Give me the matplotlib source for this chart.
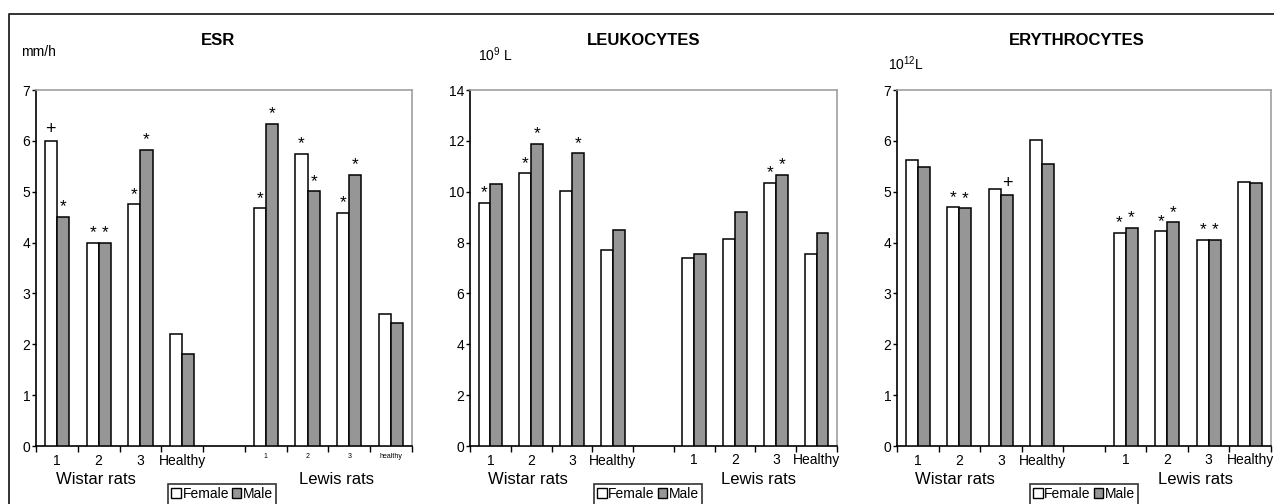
import numpy as np
import matplotlib
matplotlib.use('Agg')
import matplotlib.pyplot as plt
from matplotlib.patches import Patch
from matplotlib.lines import Line2D

plt.rcParams['font.family'] = ['Liberation Sans', 'DejaVu Sans']
plt.rcParams['mathtext.default'] = 'regular'

# kategorier: 4 Wistar, tom plass, 4 Lewis
wistar_labels = ['1', '2', '3', 'Healthy']
lewis_labels = ['1', '2', '3', 'Healthy']
lewis_labels_esr = ['1', '2', '3', 'healthy']

# ESR (mm/h)
esr_female = [6.0, 4.0, 4.75, 2.2, 4.67, 5.75, 4.59, 2.6]
esr_male = [4.5, 4.0, 5.83, 1.8, 6.34, 5.01, 5.33, 2.42]
esr_mark_f = ['+', '*', '*', '', '*', '*', '*', '']
esr_mark_m = ['*', '*', '*', '', '*', '*', '*', '']

# Leukocytter (10^9 L)
leu_female = [9.55, 10.72, 10.03, 7.7, 7.38, 8.16, 10.34, 7.57]
leu_male = [10.3, 11.88, 11.51, 8.49, 7.57, 9.19, 10.67, 8.39]
leu_mark_f = ['*', '*', '', '', '', '', '*', '']
leu_mark_m = ['', '*', '*', '', '', '', '*', '']

# Erytrocytter (10^12 L)
ery_female = [5.62, 4.69, 5.06, 6.02, 4.19, 4.22, 4.06, 5.2]
ery_male = [5.49, 4.67, 4.93, 5.54, 4.29, 4.4, 4.06, 5.17]
ery_mark_f = ['', '*', '', '', '*', '*', '*', '']
ery_mark_m = ['', '*', '+', '', '*', '*', '*', '']

W, H = 1274, 504
fig = plt.figure(figsize=(W / 100, H / 100), dpi=100)

pos = np.r_[0:4, 5:9]  # hopper over plass nr 4
bw = 0.29
grey = '#969696'


def panel(px_left, px_right, female, male, mark_f, mark_m, ymax, ystep,
          title, unit, lew_labels, lew_size, title_x, unit_x, unit_y,
          wist_x, lew_x, leg_x):
    ax = fig.add_axes([px_left / W, (H - 446) / H, (px_right - px_left) / W, 356 / H])
    ax.bar(pos - bw / 2, female, bw, color='white', edgecolor='black', linewidth=1.1, zorder=3)
    ax.bar(pos + bw / 2, male, bw, color=grey, edgecolor='black', linewidth=1.1, zorder=3)
    for xs, vals, marks in [(pos - bw / 2, female, mark_f), (pos + bw / 2, male, mark_m)]:
        for x, v, m in zip(xs, vals, marks):
            if m == '*':
                ax.annotate(m, (x, v), xytext=(0, 4), textcoords='offset points',
                            ha='center', va='baseline', fontsize=12.5)
            elif m == '+':
                ax.annotate(m, (x, v), xytext=(0, 5), textcoords='offset points',
                            ha='center', va='baseline', fontsize=13)

    ax.set_xlim(-0.5, 8.5)
    ax.set_ylim(0, ymax)
    ax.set_yticks(np.arange(0, ymax + 0.01, ystep))
    ax.tick_params(axis='y', labelsize=10, length=3, width=1, pad=1)

    ax.set_xticks(pos)
    ax.set_xticklabels(wistar_labels + [''] * 4)
    ax.set_xticks(np.arange(-0.5, 9, 1), minor=True)
    ax.tick_params(axis='x', which='major', length=0, labelsize=10, pad=6)
    ax.tick_params(axis='x', which='minor', length=4, width=1, direction='out')
    for x, lab in zip(pos[4:], lew_labels):
        ax.text(x, -0.02, lab, transform=ax.get_xaxis_transform(), ha='center', va='top',
                fontsize=lew_size)

    ax.spines['left'].set_color('black')
    ax.spines['bottom'].set_color('black')
    ax.spines['left'].set_linewidth(1.2)
    ax.spines['bottom'].set_linewidth(1.2)
    for s in ['top', 'right']:
        ax.spines[s].set_color('#a0a0a0')
        ax.spines[s].set_linewidth(1.2)

    ax.text(title_x, 1.14, title, transform=ax.transAxes, ha='center', va='center',
            fontsize=12, fontweight='bold')
    ax.text(unit_x, unit_y, unit, transform=ax.transAxes, ha='left', va='center', fontsize=10)
    ax.text(wist_x, -0.095, 'Wistar rats', transform=ax.transAxes, ha='center', va='center',
            fontsize=12)
    ax.text(lew_x, -0.095, 'Lewis rats', transform=ax.transAxes, ha='center', va='center',
            fontsize=12)

    handles = [Patch(facecolor='white', edgecolor='black', linewidth=1),
               Patch(facecolor=grey, edgecolor='black', linewidth=1)]
    leg = ax.legend(handles, ['Female', 'Male'], ncol=2, loc='center',
                    bbox_to_anchor=(leg_x, -0.135), frameon=True, fancybox=False,
                    fontsize=10, handlelength=0.7, handleheight=0.7, handletextpad=0.1,
                    columnspacing=0.2, borderpad=0.25, borderaxespad=0)
    leg.get_frame().set_edgecolor('black')
    leg.get_frame().set_linewidth(1.2)
    return ax


panel(36, 412, esr_female, esr_male, esr_mark_f, esr_mark_m, 7, 1,
      'ESR', 'mm/h', lewis_labels_esr, 5, 0.483, -0.04, 1.107, 0.16, 0.80, 0.495)
panel(470, 837, leu_female, leu_male, leu_mark_f, leu_mark_m, 14, 2,
      'LEUKOCYTES', r'10$^{9}$ L', lewis_labels, 10, 0.474, 0.022, 1.098, 0.157, 0.785, 0.485)
panel(897, 1271, ery_female, ery_male, ery_mark_f, ery_mark_m, 7, 1,
      'ERYTHROCYTES', r'10$^{12}$L', lewis_labels, 10, 0.481, -0.025, 1.075, 0.155, 0.797, 0.5)

# ytre ramme (topp og venstre)
fig.add_artist(Line2D([9 / W, 9 / W, 1], [0, 1 - 14 / H, 1 - 14 / H],
                      transform=fig.transFigure, color='#222222', linewidth=1.3))

fig.savefig('out.png', dpi=100)
